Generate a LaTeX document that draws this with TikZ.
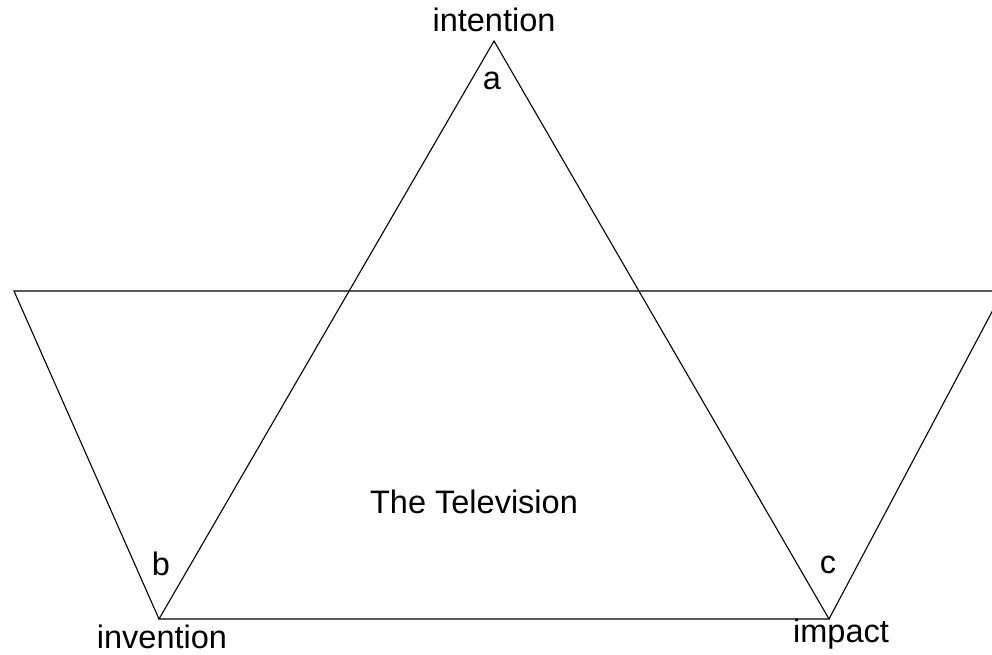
\documentclass[tikz,border=0pt]{standalone}
\usepackage{fontspec}
\setmainfont{Liberation Sans}
\begin{document}
\begin{tikzpicture}[x=1pt,y=-1pt,
  edge/.style={draw=black,line width=1.1pt},
  lbl/.style={anchor=base,inner sep=0pt,font=\fontsize{32.5}{39}\selectfont}]
\useasboundingbox (0,0) rectangle (992,655);
\coordinate (A) at (494,41);
\coordinate (B) at (159,619);
\coordinate (C) at (829,619);
\coordinate (L) at (14,291);
\coordinate (R) at (1003,291);
\draw[edge] (A) -- (B) -- (C) -- cycle;
\draw[edge] (B) -- (L) -- (R) -- (C);
\node[lbl] (intention) at (494,32) {intention};
\node[lbl] (la) at (492,90) {a};
\node[lbl] (lb) at (161,575) {b};
\node[lbl] (lc) at (828,573) {c};
\node[lbl] (tv) at (474,513) {The Television};
\node[lbl] (invention) at (162,648) {invention};
\node[lbl] (impact) at (841,642) {impact};
\end{tikzpicture}
\end{document}
